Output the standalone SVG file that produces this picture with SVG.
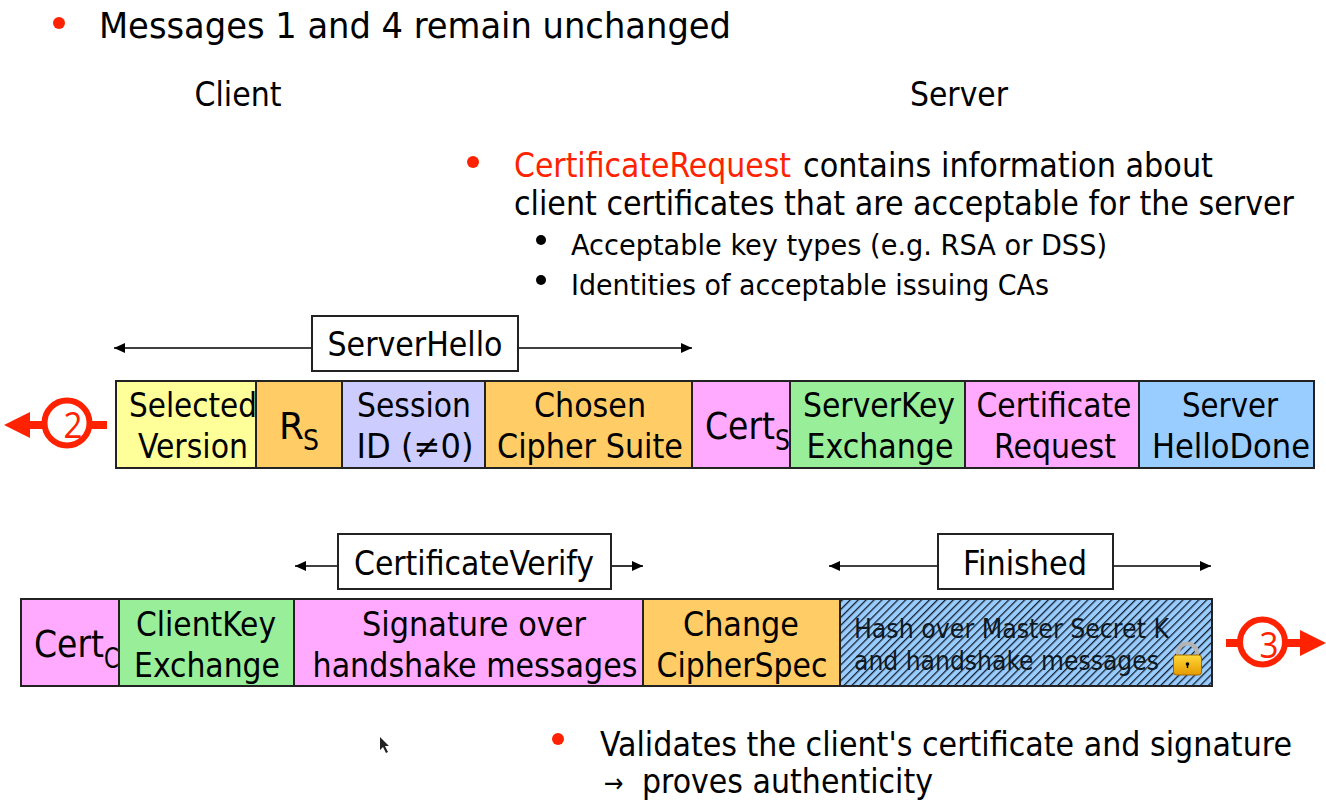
<svg xmlns="http://www.w3.org/2000/svg" width="1326" height="803" viewBox="0 0 1326 803">
<style>
text{font-family:"DejaVu Sans Condensed","DejaVu Sans","Liberation Sans",sans-serif;fill:#000;text-anchor:middle}
.t{text-anchor:start}
.h{font-size:34px}
.b{font-size:33px}
.s{font-size:28px}
.m{font-size:34px}
.c{stroke:#222;stroke-width:2}
.l{fill:#fff;stroke:#222;stroke-width:2}
.a{stroke:#000;stroke-width:1.6;fill:none}
.r{stroke:#ff2200;stroke-width:6;fill:#fff}
.d{fill:#ff2200;font-size:36px;font-family:"Open Sans","Liberation Sans",sans-serif;font-weight:400}
</style>
<defs>
<pattern id="hatch" width="5.600" height="5.600" patternUnits="userSpaceOnUse" patternTransform="rotate(45)"><rect width="1.300" height="5.600" fill="#16202c"/></pattern>
<marker id="ah" markerWidth="12" markerHeight="10" refX="11" refY="5" orient="auto-start-reverse" markerUnits="userSpaceOnUse"><path d="M0 0L11 5L0 10Z" fill="#000"/></marker>
<linearGradient id="lk" x1="0" y1="0" x2="0" y2="1"><stop offset="0" stop-color="#ffd93a"/><stop offset="1" stop-color="#e59a00"/></linearGradient>
</defs>

<g id="bullets">
<circle cx="59" cy="23" r="6" fill="#ff2200"/>
<circle cx="473" cy="162" r="6" fill="#ff2200"/>
<circle cx="541" cy="240" r="5" fill="#000"/>
<circle cx="541" cy="280" r="5" fill="#000"/>
<circle cx="558" cy="739" r="6" fill="#ff2200"/>
</g>
<g id="texts">
<text class="t" x="99" y="38" textLength="632" lengthAdjust="spacingAndGlyphs" style="font-size:36px">Messages 1 and 4 remain unchanged</text>
<text x="238" y="106" textLength="87" lengthAdjust="spacingAndGlyphs" class="h">Client</text>
<text x="959" y="106" textLength="98" lengthAdjust="spacingAndGlyphs" class="h">Server</text>
<text class="t h" x="514" y="177" textLength="277" lengthAdjust="spacingAndGlyphs" style="fill:#ff2200">CertificateRequest</text>
<text class="t h" x="803" y="177" textLength="410" lengthAdjust="spacingAndGlyphs">contains information about</text>
<text class="t h" x="514" y="215" textLength="780" lengthAdjust="spacingAndGlyphs">client certificates that are acceptable for the server</text>
<text class="t s" x="571" y="255" textLength="536" lengthAdjust="spacingAndGlyphs">Acceptable key types (e.g. RSA or DSS)</text>
<text class="t s" x="571" y="295" textLength="478" lengthAdjust="spacingAndGlyphs">Identities of acceptable issuing CAs</text>
<text class="t h" x="600" y="756" textLength="692" lengthAdjust="spacingAndGlyphs">Validates the client's certificate and signature</text>
<text class="t" x="604" y="792" style="font-size:26px">→</text>
<text class="t h" x="642" y="793" textLength="291" lengthAdjust="spacingAndGlyphs">proves authenticity</text>
</g>

<g id="connectors">
<line class="a" x1="312" y1="348" x2="114" y2="348" marker-end="url(#ah)"/>
<line class="a" x1="518" y1="348" x2="692" y2="348" marker-end="url(#ah)"/>
<line class="a" x1="338" y1="566" x2="295" y2="566" marker-end="url(#ah)"/>
<line class="a" x1="611" y1="566" x2="643" y2="566" marker-end="url(#ah)"/>
<line class="a" x1="938" y1="566" x2="829" y2="566" marker-end="url(#ah)"/>
<line class="a" x1="1113" y1="566" x2="1211" y2="566" marker-end="url(#ah)"/>
</g>

<g id="label-serverhello"><rect class="l" x="312" y="316" width="206" height="55"/><text class="m" x="415" y="356" textLength="175" lengthAdjust="spacingAndGlyphs">ServerHello</text></g>
<g id="label-certificateverify"><rect class="l" x="338" y="534" width="273" height="55"/><text class="m" x="474" y="575" textLength="240" lengthAdjust="spacingAndGlyphs">CertificateVerify</text></g>
<g id="label-finished"><rect class="l" x="938" y="534" width="175" height="55"/><text class="m" x="1025" y="575" textLength="124" lengthAdjust="spacingAndGlyphs">Finished</text></g>

<g id="selected-version"><rect class="c" x="116" y="381" width="140" height="87" fill="#ffff99"/><text class="b" x="193" y="417" textLength="128" lengthAdjust="spacingAndGlyphs">Selected</text><text class="b" x="193" y="458" textLength="110" lengthAdjust="spacingAndGlyphs">Version</text></g>
<g id="rs"><rect class="c" x="256" y="381" width="86" height="87" fill="#ffcc66"/><text class="t" x="279" y="439" style="font-size:38px" textLength="25" lengthAdjust="spacingAndGlyphs">R</text><text class="t" x="303" y="450" style="font-size:29px" textLength="16" lengthAdjust="spacingAndGlyphs">S</text></g>
<g id="session-id"><rect class="c" x="342" y="381" width="143" height="87" fill="#ccccff"/><text class="b" x="414" y="417" textLength="114" lengthAdjust="spacingAndGlyphs">Session</text><text class="b" x="415" y="458" textLength="117" lengthAdjust="spacingAndGlyphs">ID (≠0)</text></g>
<g id="chosen-cipher"><rect class="c" x="485" y="381" width="207" height="87" fill="#ffcc66"/><text class="b" x="590" y="417" textLength="112" lengthAdjust="spacingAndGlyphs">Chosen</text><text class="b" x="590" y="458" textLength="186" lengthAdjust="spacingAndGlyphs">Cipher Suite</text></g>
<g id="cert-s"><rect class="c" x="692" y="381" width="98" height="87" fill="#ffaaff"/><text class="t" x="705" y="439" style="font-size:38px" textLength="70" lengthAdjust="spacingAndGlyphs">Cert</text><text class="t" x="775" y="450" style="font-size:29px" textLength="15" lengthAdjust="spacingAndGlyphs">S</text></g>
<g id="serverkey-exchange"><rect class="c" x="790" y="381" width="175" height="87" fill="#99ee99"/><text class="b" x="879" y="417" textLength="152" lengthAdjust="spacingAndGlyphs">ServerKey</text><text class="b" x="880" y="458" textLength="147" lengthAdjust="spacingAndGlyphs">Exchange</text></g>
<g id="certificate-request"><rect class="c" x="965" y="381" width="174" height="87" fill="#ffaaff"/><text class="b" x="1054" y="417" textLength="155" lengthAdjust="spacingAndGlyphs">Certificate</text><text class="b" x="1055" y="458" textLength="122" lengthAdjust="spacingAndGlyphs">Request</text></g>
<g id="server-hellodone"><rect class="c" x="1139" y="381" width="175" height="87" fill="#99ccff"/><text class="b" x="1230" y="417" textLength="96" lengthAdjust="spacingAndGlyphs">Server</text><text class="b" x="1231" y="458" textLength="158" lengthAdjust="spacingAndGlyphs">HelloDone</text></g>

<g id="cert-c"><rect class="c" x="21" y="599" width="98" height="87" fill="#ffaaff"/><text class="t" x="34" y="657" style="font-size:38px" textLength="70" lengthAdjust="spacingAndGlyphs">Cert</text><text class="t" x="104" y="668" style="font-size:29px" textLength="15" lengthAdjust="spacingAndGlyphs">C</text></g>
<g id="clientkey-exchange"><rect class="c" x="119" y="599" width="175" height="87" fill="#99ee99"/><text class="b" x="206" y="636" textLength="140" lengthAdjust="spacingAndGlyphs">ClientKey</text><text class="b" x="207" y="677" textLength="146" lengthAdjust="spacingAndGlyphs">Exchange</text></g>
<g id="signature"><rect class="c" x="294" y="599" width="349" height="87" fill="#ffaaff"/><text class="b" x="474" y="636" textLength="224" lengthAdjust="spacingAndGlyphs">Signature over</text><text class="b" x="475" y="677" textLength="325" lengthAdjust="spacingAndGlyphs">handshake messages</text></g>
<g id="change-cipherspec"><rect class="c" x="643" y="599" width="197" height="87" fill="#ffcc66"/><text class="b" x="741" y="636" textLength="116" lengthAdjust="spacingAndGlyphs">Change</text><text class="b" x="742" y="677" textLength="171" lengthAdjust="spacingAndGlyphs">CipherSpec</text></g>
<g id="finished-hash"><rect x="840" y="599" width="372" height="87" fill="#99ccff"/>
<rect x="840" y="599" width="372" height="87" fill="url(#hatch)"/>
<text class="t" x="854" y="638" style="font-size:27px;fill:#101820" textLength="315" lengthAdjust="spacingAndGlyphs">Hash over Master Secret K</text>
<text class="t" x="854" y="670" style="font-size:27px;fill:#101820" textLength="305" lengthAdjust="spacingAndGlyphs">and handshake messages</text>
<rect class="c" x="840" y="599" width="372" height="87" fill="none"/>
<path d="M1178 656v-3a9.500 9.500 0 0 1 19 0v3" fill="none" stroke="#b4b4b4" stroke-width="4"/>
<rect x="1173.500" y="655" width="28" height="20" rx="3" fill="url(#lk)" stroke="#a06a00" stroke-width="1"/>
<circle cx="1187.500" cy="664" r="1.800" fill="#000"/><rect x="1186.800" y="664" width="1.400" height="4" fill="#000"/>
</g>

<g id="badge-2">
<line x1="107" y1="425" x2="28" y2="425" stroke="#ff2200" stroke-width="8"/>
<path d="M4 425L30 412V438Z" fill="#ff2200"/>
<circle class="r" cx="67" cy="423" r="22.500"/>
<text class="d" x="73" y="438" textLength="19" lengthAdjust="spacingAndGlyphs">2</text>
</g>
<g id="badge-3">
<line x1="1226" y1="643" x2="1300" y2="643" stroke="#ff2200" stroke-width="8"/>
<path d="M1326 643L1300 630V656Z" fill="#ff2200"/>
<circle class="r" cx="1262.500" cy="642" r="22.500"/>
<text class="d" x="1269" y="658" textLength="19" lengthAdjust="spacingAndGlyphs">3</text>
</g>
<g id="cursor"><path d="M380 737L380 750L383 747L386 753L388 752L385 746L389 746Z" fill="#222"/></g>
</svg>
